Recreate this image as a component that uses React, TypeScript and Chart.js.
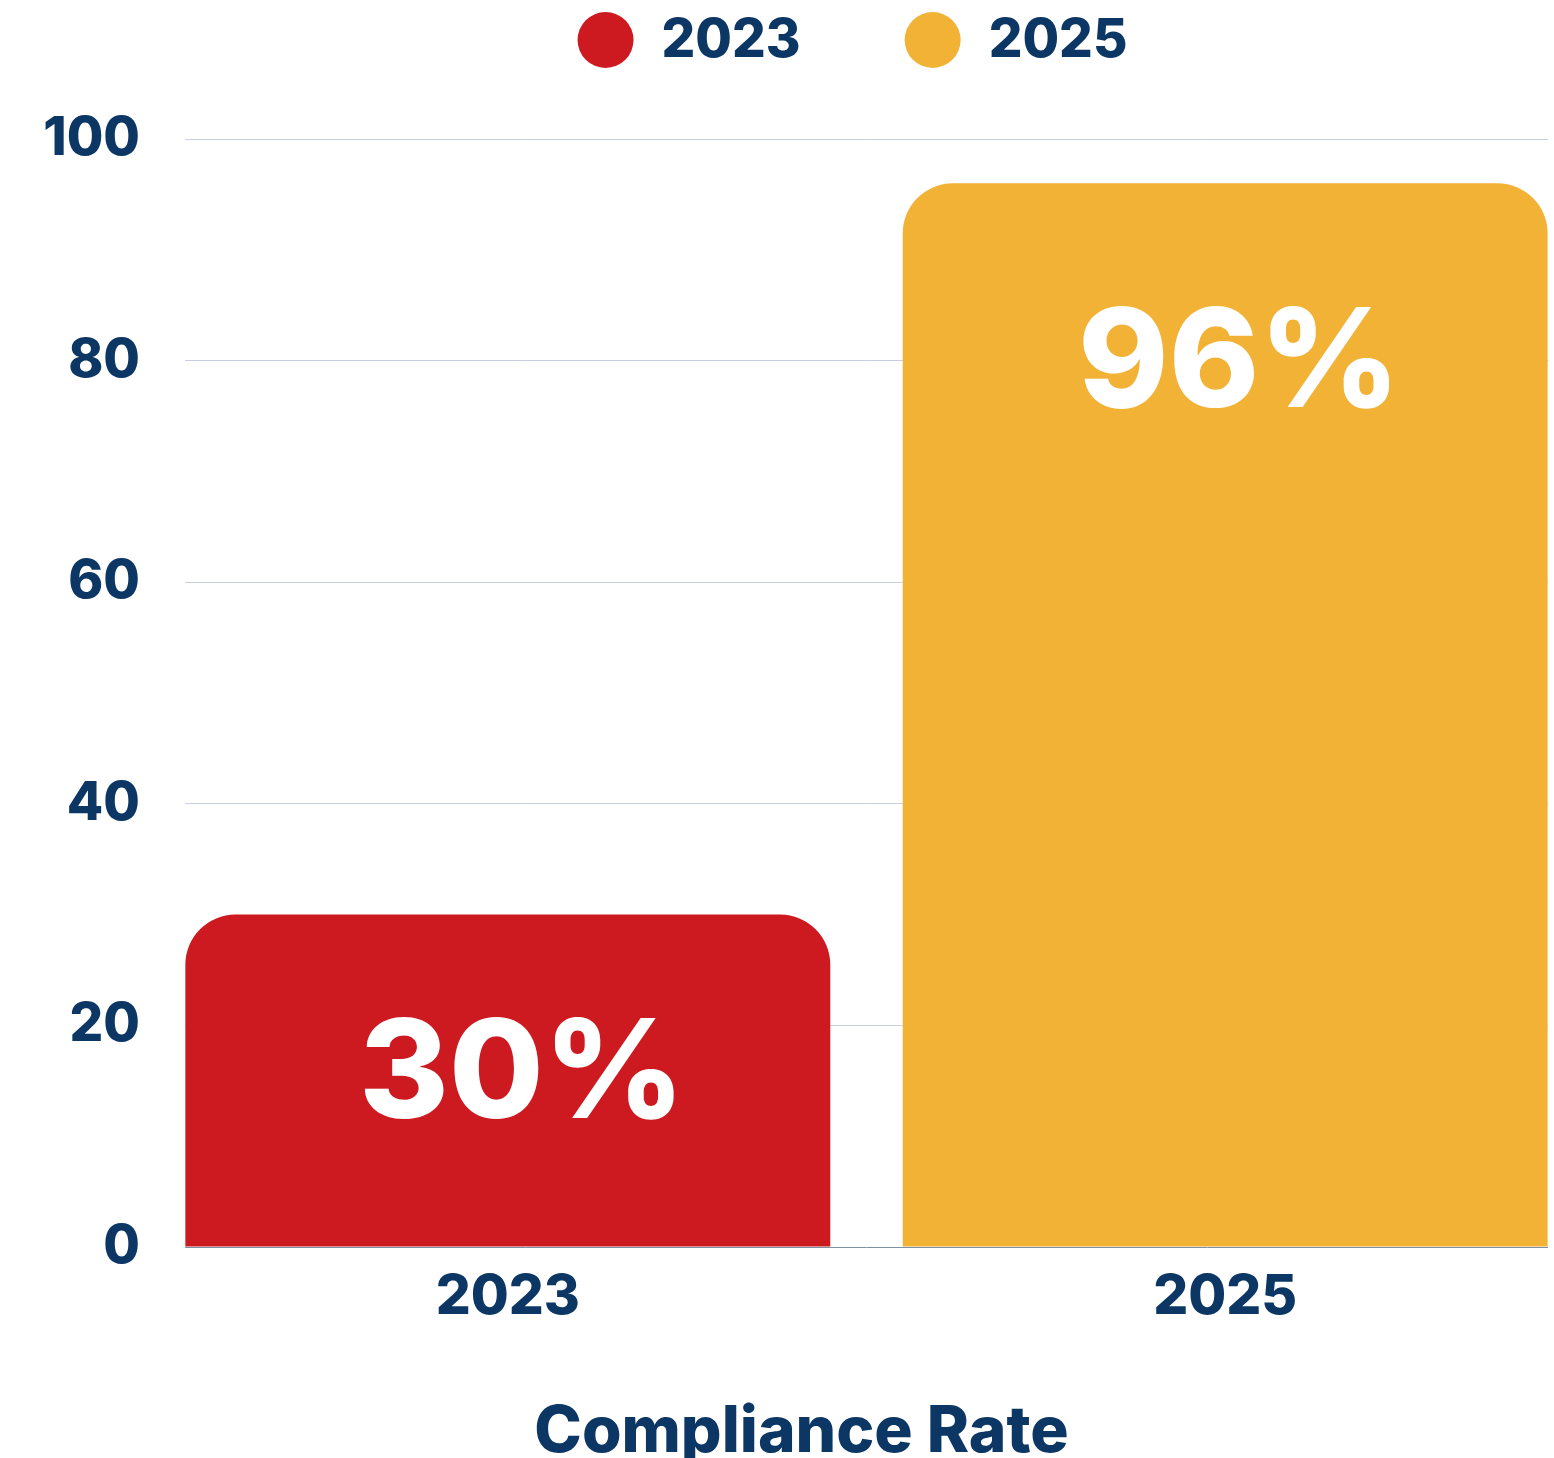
import { useEffect, useRef } from "react";
import { Chart, registerables } from "chart.js";

Chart.register(...registerables);

// ---- data ----
const categories = ["2023", "2025"];
const complianceRate = [30, 96];
const seriesColors = ["#CD1A20", "#F2B236"];
const yTickValues = [0, 20, 40, 60, 80, 100];
const axisTitle = "Compliance Rate";

const NAVY = "#0C3764";
const FONT = "Inter";

export default function App() {
  const ref = useRef<HTMLCanvasElement>(null);

  useEffect(() => {
    if (!ref.current) return;

    const customLegend = {
      id: "customLegend",
      afterDraw(chart: any) {
        const ctx = chart.ctx;
        const ca = chart.chartArea;
        ctx.save();
        ctx.font = `800 53px ${FONT}`;
        ctx.textBaseline = "middle";
        ctx.textAlign = "left";
        const r = 28;
        const gap = 28;
        const spacing = 104;
        const items = chart.data.datasets.map((ds: any) => ({
          text: ds.label,
          color: ds.backgroundColor,
          w: ctx.measureText(ds.label).width,
        }));
        const total = items.reduce((s: number, it: any) => s + 2 * r + gap + it.w, 0) + spacing * (items.length - 1);
        let x = (ca.left + ca.right) / 2 - 14 - total / 2;
        const cy = 40;
        items.forEach((it: any) => {
          ctx.beginPath();
          ctx.fillStyle = it.color;
          ctx.arc(x + r, cy, r, 0, Math.PI * 2);
          ctx.fill();
          ctx.fillStyle = NAVY;
          ctx.fillText(it.text, x + 2 * r + gap, cy + 1);
          x += 2 * r + gap + it.w + spacing;
        });
        ctx.restore();
      },
    };

    const axisTitlePlugin = {
      id: "axisTitlePlugin",
      afterDraw(chart: any) {
        const ctx = chart.ctx;
        ctx.save();
        ctx.font = `800 64px ${FONT}`;
        ctx.fillStyle = NAVY;
        ctx.textAlign = "center";
        ctx.textBaseline = "alphabetic";
        ctx.fillText(axisTitle, chart.width / 2 + 24.5, 1452);
        ctx.restore();
      },
    };

    const valueLabels = {
      id: "valueLabels",
      afterDatasetsDraw(chart: any) {
        const ctx = chart.ctx;
        ctx.save();
        ctx.fillStyle = "#FFFFFF";
        ctx.font = `800 137px ${FONT}`;
        ctx.textAlign = "center";
        ctx.textBaseline = "alphabetic";
        chart.data.datasets.forEach((ds: any, i: number) => {
          const meta = chart.getDatasetMeta(i);
          meta.data.forEach((bar: any, j: number) => {
            const p = bar.getProps(["x", "y", "base"], true);
            const h = p.base - p.y;
            ctx.fillText(`${ds.data[j].y}%`, p.x + 14, p.y + 193.5 + 0.0287 * h);
          });
        });
        ctx.restore();
      },
    };

    const chart = new Chart(ref.current, {
      type: "bar",
      data: {
        datasets: categories.map((c, i) => ({
          label: c,
          data: [{ x: i, y: complianceRate[i] }],
          backgroundColor: seriesColors[i],
          borderWidth: 0,
          borderRadius: { topLeft: 50, topRight: 50, bottomLeft: 0, bottomRight: 0 },
          borderSkipped: "bottom",
          grouped: false,
          categoryPercentage: 1,
          barPercentage: 0.899,
        })),
      },
      options: {
        animation: false,
        responsive: false,
        maintainAspectRatio: false,
        layout: { padding: { top: 139, right: 6, left: 0, bottom: 0 } },
        plugins: {
          legend: { display: false },
          tooltip: { enabled: false },
        },
        scales: {
          x: {
            type: "linear",
            min: -0.45,
            max: 1.45,
            offset: false,
            grid: { display: false, drawTicks: false },
            border: { display: false },
            afterBuildTicks: (s: any) => {
              s.ticks = categories.map((_, i) => ({ value: i }));
            },
            afterFit: (s: any) => {
              s.height = 233;
            },
            ticks: {
              autoSkip: false,
              maxRotation: 0,
              padding: 17,
              color: NAVY,
              font: { family: FONT, size: 55, weight: 800 },
              callback: (v: any) => categories[v as number] ?? "",
            },
            title: { display: false, text: axisTitle },
          },
          y: {
            min: 0,
            max: 100,
            afterBuildTicks: (s: any) => {
              s.ticks = yTickValues.map((v) => ({ value: v }));
            },
            afterFit: (s: any) => {
              s.width = 185;
            },
            grid: {
              drawTicks: false,
              lineWidth: 1,
              color: (c: any) => (c.tick && c.tick.value === 0 ? "#7F91A6" : "#C6CFDB"),
            },
            border: { display: false },
            ticks: {
              padding: 45,
              color: NAVY,
              font: { family: FONT, size: 53, weight: 800 },
            },
          },
        },
      },
      plugins: [valueLabels, customLegend, axisTitlePlugin],
    } as any);

    return () => chart.destroy();
  }, []);

  return (
    <div style={{ position: "absolute", left: 0, top: 0, width: 1554, height: 1458, overflow: "hidden", background: "#fff" }}>
      <canvas ref={ref} width={1554} height={1480} style={{ display: "block" }} />
    </div>
  );
}
